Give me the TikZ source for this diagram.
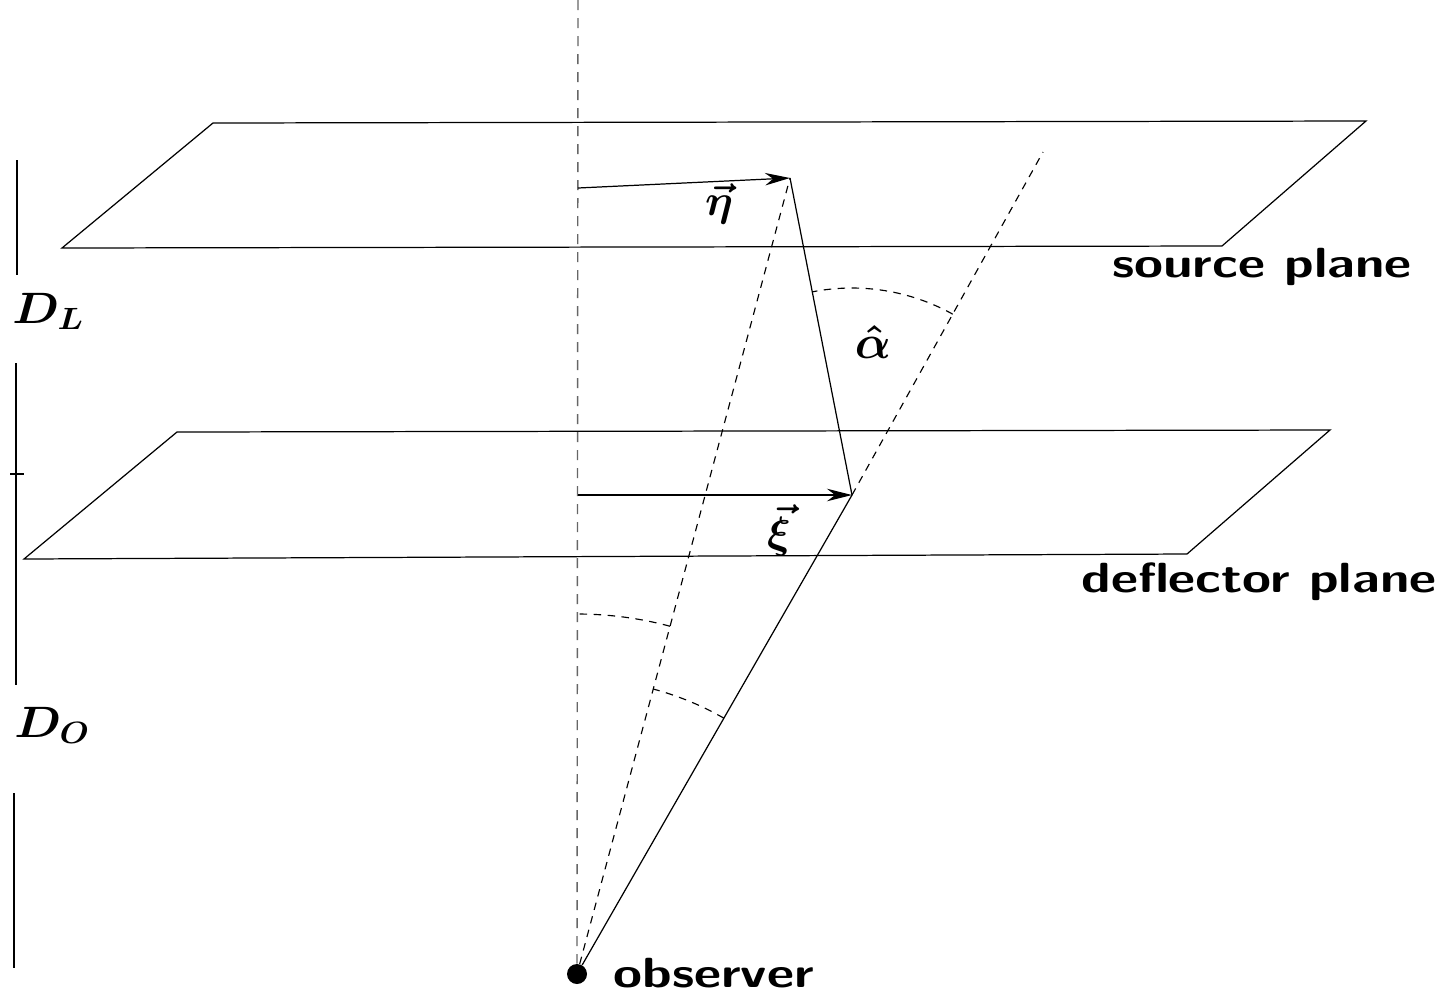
\RequirePackage{fix-cm}
\documentclass[tikz,border=0pt]{standalone}
\usepackage{amsmath}
\usepackage{bm}
\usepackage{tikz}
\usetikzlibrary{arrows.meta,calc,angles}
\tikzset{
  >={Stealth[length=5mm,width=2.5mm]},
  plane/.style ={draw=black,line width=0.7pt,line join=miter},
  ray/.style   ={draw=black,line width=0.7pt},
  axis/.style  ={draw=black!60,line width=0.8pt,dash pattern=on 2mm off 1.6mm},
  guide/.style ={draw=black,line width=0.65pt,dash pattern=on 1.5mm off 1.3mm},
  bar/.style   ={draw=black,line width=0.7pt},
  lbl/.style   ={font=\fontsize{24}{29}\selectfont\sffamily\bfseries,xscale=1.25,inner sep=0pt},
  mlbl/.style  ={font=\fontsize{25}{30}\selectfont,inner sep=0pt},
  dot/.style   ={circle,fill=black,minimum size=4mm,inner sep=0pt},
}

\begin{document}
\begin{tikzpicture}[x=0.2mm,y=0.2mm]
\useasboundingbox (0,0) rectangle (1449,-998);
% planes
\draw[plane] (213,-123) -- (1366,-121) -- (1222,-246) -- (62,-248) -- cycle;
\draw[plane] (177,-432) -- (1330,-430) -- (1187,-554) -- (24,-559) -- cycle;
\node[lbl,anchor=base] (srclbl) at (1262,-277) {source plane};
\node[lbl,anchor=base] (deflbl) at (1259,-592) {deflector plane};
% points
\node[dot] (obsdot) at (577,-974) {};
\node[lbl,anchor=base west] (obslbl) at (613,-987) {observer};
\coordinate (top) at (578,0);
\coordinate (etaO) at (578,-188);
\coordinate (xiO) at (578,-495);
\coordinate (eta) at (790,-178);
\coordinate (xi) at (852,-495);
\coordinate (ext) at (1043,-152);
% rays
\draw[axis] (top) -- (obsdot);
\draw[ray,->] (etaO) -- (eta);
\draw[ray,->] (xiO) -- (xi);
\draw[ray] (eta) -- (xi) -- (obsdot);
\draw[guide] (obsdot) -- (eta);
\draw[guide] (xi) -- (ext);
\pic[guide,angle radius=41.4mm] {angle=ext--xi--eta};
\pic[guide,angle radius=72mm] {angle=eta--obsdot--top};
\pic[guide,angle radius=59mm] {angle=xi--obsdot--eta};
\node[mlbl] (etalbl) at (719,-204) {$\bm{\vec{\eta}}$};
\node[mlbl] (xilbl) at (779,-530) {$\bm{\vec{\xi}}$};
\node[mlbl,font=\fontsize{27}{32}\selectfont] (alphalbl) at (873,-342) {$\bm{\hat{\alpha}}$};
% distances
\draw[bar] (17,-160) -- (17,-275);
\draw[bar] (16,-363) -- (16,-685);
\draw[bar] (10,-474) -- (24,-474);
\draw[bar] (14,-793) -- (14,-968);
\node[mlbl,anchor=base west,xscale=1.1] (dl) at (12,-323) {$\bm{D_L}$};
\node[mlbl,anchor=base west,xscale=1.1] (do) at (14,-737) {$\bm{D_O}$};
\end{tikzpicture}
\end{document}
